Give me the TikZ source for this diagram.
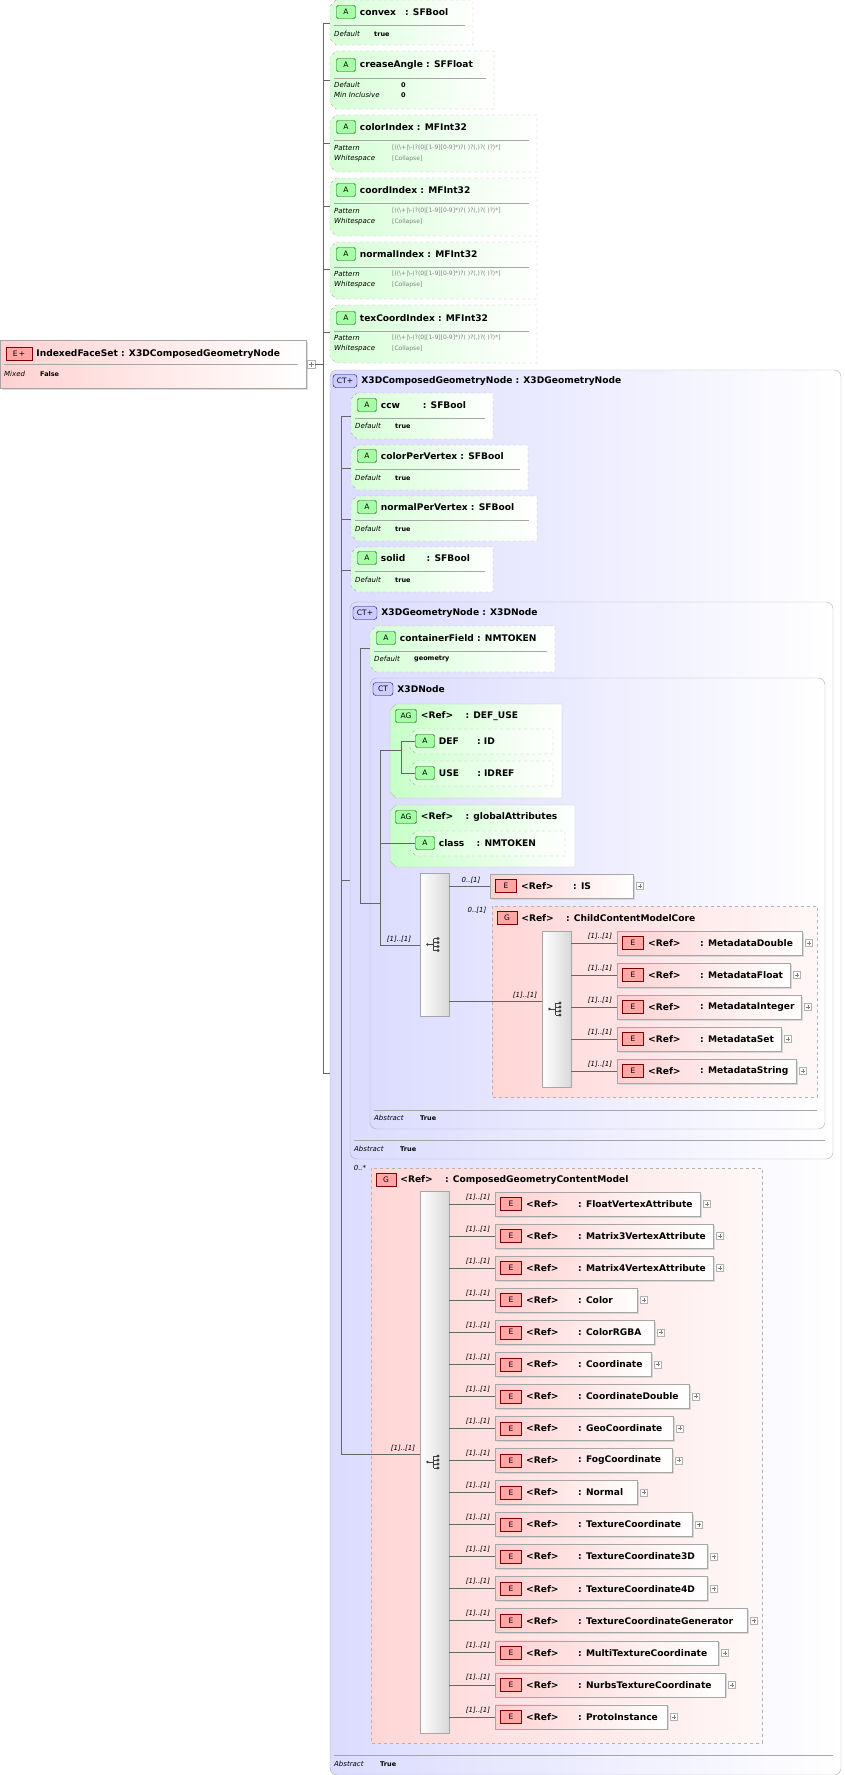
\documentclass[tikz,border=0pt]{standalone}
\usepackage{fontspec}
\setmainfont{DejaVu Sans}
\usetikzlibrary{positioning,shadows}

\tikzset{
  conn/.style={draw=gray!80!black, line width=0.5pt},
  attrbox/.style={draw=gray!60, dashed, left color=green!16, right color=white},
  agbox/.style={draw=gray!50, left color=green!22, right color=white},
  ctbox/.style={draw=gray!60, rounded corners=7pt, left color=blue!14, right color=white},
  grpbox/.style={draw=gray!60, dashed, left color=red!16, right color=red!3},
  ebox/.style={draw=gray!70, left color=red!18, right color=white, minimum height=24pt, inner sep=0pt,
    drop shadow={shadow xshift=1.5pt, shadow yshift=-1.5pt, fill=gray!45, opacity=0.6}},
  seqbox/.style={draw=gray!70, left color=white, right color=gray!30, inner sep=0pt},
  badge/.style={draw, rounded corners=1.5pt, minimum height=13pt, inner sep=0pt, font=\fontsize{7.5}{8}\selectfont},
  abadge/.style={badge, fill=green!35, draw=green!35!black, minimum width=19pt},
  agbadge/.style={abadge, minimum width=21pt},
  ebadge/.style={badge, fill=red!35, draw=red!50!black, minimum width=21pt, rounded corners=0pt},
  ctbadge/.style={badge, fill=blue!20, draw=blue!45!black, minimum width=24pt, rounded corners=3pt},
  title/.style={font=\bfseries\fontsize{9.1}{10}\selectfont, inner sep=1pt, anchor=west},
  fkey/.style={font=\itshape\fontsize{7}{8}\selectfont, inner sep=0pt, anchor=west},
  fval/.style={font=\bfseries\fontsize{6.5}{8}\selectfont, inner sep=0pt, anchor=west},
  pval/.style={font=\fontsize{6}{7}\selectfont, text=gray, inner sep=0pt, anchor=west},
  mult/.style={font=\itshape\fontsize{7}{8}\selectfont, inner sep=0pt},
  sepline/.style={draw=gray!70},
  plusbox/.style={draw=gray!60, fill=white, minimum size=7pt, inner sep=0pt,
    path picture={\draw[gray] ([xshift=1.5pt]path picture bounding box.west) -- ([xshift=-1.5pt]path picture bounding box.east);
      \draw[gray] ([yshift=-1.5pt]path picture bounding box.north) -- ([yshift=1.5pt]path picture bounding box.south);}},
}

% chamfered attribute shape: x1 y1 x2 y2
\newcommand\attrshape[5][attrbox]{\path[#1] (#2+6,#3) -- (#4,#3) -- (#4,#5) -- (#2+6,#5) -- (#2,#5-6) -- (#2,#3+6) -- cycle;}
% attribute header: name x1 y x2 text
\newcommand\attrhead[5]{%
  \node[abadge] (#1) at (#2+16,#3) {A};
  \node[title, right=3pt of #1] {#5};
  \draw[sepline] (#2+4,#3+13) -- (#4-8,#3+13);}
\newcommand\facet[5][44]{\node[fkey] at (#2+4,#3) {#4}; \node[fval] at (#2+#1,#3) {#5};}
\newcommand\patt{[((\textbackslash+|\textbackslash-)?(0|[1-9][0-9]*)?( )?(,)?( )?)*]}
\newcommand\pfacets[2]{\node[fkey] at (#1+4,#2) {Pattern}; \node[pval] at (#1+62,#2) {\patt};
  \node[fkey] at (#1+4,#2+11) {Whitespace}; \node[pval] at (#1+62,#2+11) {[Collapse]};}
% sequence icon inside a compositor node
\newcommand\seqicon[1]{%
  \begin{scope}[shift={(#1.center)}]
    \fill[black!75] (-7,0) circle (1.4);
    \draw[black!75] (-7,0) -- (-1,0) (-1,-6) -- (-1,6) (-1,-6) -- (3,-6) (-1,-2) -- (3,-2) (-1,2) -- (3,2) (-1,6) -- (3,6);
    \foreach \d in {-6,-2,2,6} \fill[black!75] (3.5,\d) circle (1.6);
  \end{scope}}
% element row: name x y right text
\newcommand\erow[5]{%
  \pgfmathsetmacro\ew{#4-#2}
  \node[ebox, minimum width=\ew pt, anchor=west] (#1) at (#2,#3) {};
  \node[ebadge] at (#2+16,#3) {E};
  \node[title] at (#2+30,#3) {<Ref>};
  \node[title] at (#2+82,#3) {: #5};
  \node[plusbox, right=3pt of #1] {};}

\begin{document}
\begin{tikzpicture}[x=1pt,y=-1pt]
\useasboundingbox (0,0) rectangle (845,1775);

% root element
\path[ebox, draw=gray!70] (0,340) rectangle (306,388);
\node[ebadge, minimum width=26pt] (root) at (19,354) {E\,+};
\node[title, right=3pt of root] {IndexedFaceSet : X3DComposedGeometryNode};
\draw[sepline] (4,364) -- (298,364);
\node[fkey] at (4,374) {Mixed}; \node[fval] at (40,374) {False};
\node[plusbox, minimum size=8pt] (root-x) at (311,364) {};
\draw[gray] (308.5,364) -- (313.5,364);

% top attributes
\coordinate (sp1-top) at (323,23);
\coordinate (sp1-bot) at (323,1073);
\draw[conn] (sp1-top) -- (sp1-bot);
\draw[conn] (root-x.east) -- (sp1-bot |- root-x.east);

\attrshape{330}{0}{473}{45}
\attrhead{a-convex}{330}{12}{473}{convex\quad : SFBool}
\facet{330}{34}{Default}{true}
\attrshape{330}{51}{494}{109}
\attrhead{a-crease}{330}{65}{494}{creaseAngle : SFFloat}
\facet[71]{330}{85}{Default}{0}
\facet[71]{330}{95}{Min Inclusive}{0}
\attrshape{330}{115}{537}{172}
\attrhead{a-color}{330}{127}{537}{colorIndex : MFInt32}
\pfacets{330}{148}
\attrshape{330}{178}{537}{236}
\attrhead{a-coord}{330}{190}{537}{coordIndex : MFInt32}
\pfacets{330}{211}
\attrshape{330}{242}{537}{299}
\attrhead{a-normal}{330}{254}{537}{normalIndex : MFInt32}
\pfacets{330}{274}
\attrshape{330}{305}{537}{363}
\attrhead{a-tex}{330}{318}{537}{texCoordIndex : MFInt32}
\pfacets{330}{338}
\foreach \y in {23,80,143,206,269,332} \draw[conn] (sp1-top |- 0,\y) -- (330,\y);

% complex type X3DComposedGeometryNode
\path[ctbox] (330,370) rectangle (841,1775);
\node[ctbadge] (ct1) at (345,381) {CT+};
\node[title, right=3pt of ct1] {X3DComposedGeometryNode : X3DGeometryNode};
\draw[conn] (sp1-bot) -- (330,1073);
\draw[sepline] (334,1755) -- (833,1755);
\node[fkey] at (334,1764) {Abstract}; \node[fval] at (380,1764) {True};

\coordinate (sp2-top) at (341,416);
\coordinate (sp2-bot) at (341,1454);
\draw[conn] (sp2-top) -- (sp2-bot);

\attrshape{351}{393}{493}{439}
\attrhead{a-ccw}{351}{405}{493}{ccw\qquad\enspace : SFBool}
\facet{351}{426}{Default}{true}
\attrshape{351}{445}{528}{490}
\attrhead{a-cpv}{351}{456}{528}{colorPerVertex : SFBool}
\facet{351}{478}{Default}{true}
\attrshape{351}{496}{537}{541}
\attrhead{a-npv}{351}{507}{537}{normalPerVertex : SFBool}
\facet{351}{529}{Default}{true}
\attrshape{351}{547}{493}{592}
\attrhead{a-solid}{351}{558}{493}{solid\qquad\ : SFBool}
\facet{351}{580}{Default}{true}
\foreach \y in {416,468,519,570,880} \draw[conn] (sp2-top |- 0,\y) -- (351,\y);

% complex type X3DGeometryNode
\path[ctbox] (350,602) rectangle (833,1159);
\node[ctbadge] (ct2) at (365,613) {CT+};
\node[title, right=3pt of ct2] {X3DGeometryNode : X3DNode};
\draw[sepline] (354,1140) -- (825,1140);
\node[fkey] at (354,1149) {Abstract}; \node[fval] at (400,1149) {True};

\coordinate (sp3-top) at (360,648);
\coordinate (sp3-bot) at (360,903);
\draw[conn] (sp3-top) -- (sp3-bot);

\attrshape{370}{626}{555}{672}
\attrhead{a-cf}{370}{638}{555}{containerField : NMTOKEN}
\facet{370}{659}{Default}{geometry}
\draw[conn] (sp3-top) -- (370,648);

% complex type X3DNode
\path[ctbox] (370,678) rectangle (825,1129);
\node[ctbadge, minimum width=20pt] (ct3) at (383,689) {CT};
\node[title, right=3pt of ct3] {X3DNode};
\draw[sepline] (374,1110) -- (817,1110);
\node[fkey] at (374,1118) {Abstract}; \node[fval] at (420,1118) {True};

\coordinate (sp4-top) at (380,750);
\coordinate (sp4-bot) at (380,945);
\draw[conn] (sp4-top) -- (sp4-bot);
\draw[conn] (sp3-bot) -- (sp4-bot |- sp3-bot);

% attribute group DEF_USE
\attrshape[agbox]{390}{704}{562}{798}
\node[agbadge] (ag1) at (406,716) {AG};
\node[title, right=3pt of ag1] {<Ref>\quad\ : DEF\_USE};
\attrshape{410}{729}{553}{754}
\node[abadge] (a-def) at (425,741) {A};
\node[title, right=3pt of a-def] {DEF\qquad : ID};
\attrshape{410}{761}{553}{786}
\node[abadge] (a-use) at (425,773) {A};
\node[title, right=3pt of a-use] {USE\qquad : IDREF};
\draw[conn] (sp4-top) -- (401,750);
\draw[conn] (401,741) -- (401,773);
\draw[conn] (401,741) -- (a-def.west); \draw[conn] (401,773) -- (a-use.west);

% attribute group globalAttributes
\attrshape[agbox]{390}{805}{575}{867}
\node[agbadge] (ag2) at (406,817) {AG};
\node[title, right=3pt of ag2] {<Ref>\quad\ : globalAttributes};
\attrshape{410}{831}{565}{856}
\node[abadge] (a-class) at (425,843) {A};
\node[title, right=3pt of a-class] {class\quad\ : NMTOKEN};
\draw[conn] (sp4-top |- a-class) -- (a-class.west);

% sequence of X3DNode
\node[seqbox, minimum width=29pt, minimum height=143pt] (s1) at (434.5,944.5) {};
\seqicon{s1}
\draw[conn] (sp4-bot) -- (s1.west |- sp4-bot);
\node[mult] at (399,939) {[1]..[1]};

\erow{e-is}{490}{886}{633}{IS}
\draw[conn] (s1.east |- e-is.west) -- (e-is.west);
\node[mult] at (471,880) {0..[1]};

% group ChildContentModelCore
\path[grpbox] (492,906) rectangle (817,1097);
\node[ebadge, minimum width=20pt] (g1) at (507,918) {G};
\node[title, right=3pt of g1] {<Ref>\quad\ : ChildContentModelCore};
\node[mult] at (477,910) {0..[1]};
\node[seqbox, minimum width=29pt, minimum height=156pt] (s2) at (556.5,1009) {};
\seqicon{s2}
\draw[conn] (s1.east |- 0,1001) -- (s2.west |- 0,1001);
\node[mult] at (525,995) {[1]..[1]};
\foreach \n/\r [count=\i from 0] in {MetadataDouble/802, MetadataFloat/790, MetadataInteger/801, MetadataSet/781, MetadataString/796}{
  \pgfmathsetmacro\y{943+32*\i}
  \erow{m\i}{617}{\y}{\r}{\n}
  \draw[conn] (s2.east |- m\i.west) -- (m\i.west);
  \node[mult] at (600,\y-7) {[1]..[1]};
}

% group ComposedGeometryContentModel
\path[grpbox] (371,1168) rectangle (762,1743);
\node[ebadge, minimum width=20pt] (g2) at (386,1180) {G};
\node[title, right=3pt of g2] {<Ref>\quad\ : ComposedGeometryContentModel};
\node[mult] at (360,1168) {0..*};
\node[seqbox, minimum width=29pt, minimum height=542pt] (s3) at (434.5,1462) {};
\seqicon{s3}
\draw[conn] (sp2-bot) -- (s3.west |- sp2-bot);
\node[mult] at (403,1448) {[1]..[1]};
\foreach \n/\r [count=\i from 0] in {FloatVertexAttribute/700, Matrix3VertexAttribute/713, Matrix4VertexAttribute/713,
    Color/637, ColorRGBA/654, Coordinate/651, CoordinateDouble/689, GeoCoordinate/673, FogCoordinate/672,
    Normal/637, TextureCoordinate/692, TextureCoordinate3D/707, TextureCoordinate4D/707,
    TextureCoordinateGenerator/747, MultiTextureCoordinate/718, NurbsTextureCoordinate/725, ProtoInstance/667}{
  \pgfmathsetmacro\y{1204+32.05*\i}
  \erow{r\i}{495}{\y}{\r}{\n}
  \draw[conn] (s3.east |- r\i.west) -- (r\i.west);
  \node[mult] at (478,\y-7) {[1]..[1]};
}
\end{tikzpicture}
\end{document}
